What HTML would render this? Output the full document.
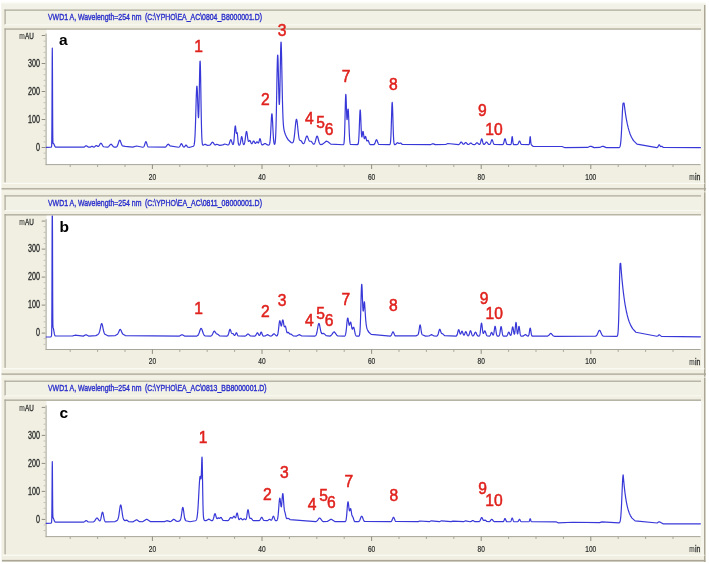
<!DOCTYPE html>
<html lang="en">
<head>
<meta charset="utf-8">
<title>HPLC chromatograms a, b, c</title>
<style>
html,body{margin:0;padding:0;background:#ffffff;}
body{width:709px;height:564px;overflow:hidden;font-family:"Liberation Sans",sans-serif;}
svg{display:block;font-family:"Liberation Sans",sans-serif;}
svg text{font-family:"Liberation Sans",sans-serif;}
</style>
</head>
<body>
<svg width="709" height="564" viewBox="0 0 709 564">
<g filter="url(#soft)">
<rect x="1.50" y="2.80" width="704.50" height="559.20" fill="#f0efe2"/>
<rect x="1.50" y="2.80" width="704.50" height="6.50" fill="#f3f2e8"/>
<rect x="1.50" y="2.80" width="704.50" height="1.00" fill="#f8f7f0"/>
<rect x="704.00" y="5.00" width="1.40" height="557.00" fill="#aaa797"/>
<rect x="2.00" y="559.90" width="703.40" height="1.60" fill="#aaa797"/>
<rect x="4.50" y="9.50" width="696.50" height="15.50" fill="#f2f1e5"/>
<rect x="4.50" y="9.50" width="696.50" height="1.20" fill="#aaa797"/>
<rect x="4.50" y="9.50" width="1.20" height="15.00" fill="#aaa797"/>
<rect x="5.00" y="24.30" width="696.00" height="1.00" fill="#fbfaf4"/>
<rect x="4.50" y="28.40" width="696.50" height="1.30" fill="#aaa797"/>
<rect x="4.50" y="28.40" width="1.20" height="154.10" fill="#aaa797"/>
<rect x="701.00" y="29.70" width="3.00" height="153.10" fill="#f6f5ec"/>
<rect x="2.50" y="182.80" width="702.00" height="1.20" fill="#fbfaf4"/>
<rect x="1.50" y="188.15" width="704.50" height="1.30" fill="#aaa797"/>
<rect x="1.50" y="191.40" width="704.50" height="0.90" fill="#f6f5ec"/>
<rect x="46.50" y="29.90" width="654.50" height="134.70" fill="#ffffff"/>
<rect x="45.60" y="33.50" width="1.00" height="131.60" fill="#a8a69b"/>
<rect x="45.60" y="164.10" width="654.90" height="1.00" fill="#a8a69b"/>
<rect x="43.60" y="158.25" width="2.00" height="0.90" fill="#bdbbb0"/>
<rect x="43.60" y="152.65" width="2.00" height="0.90" fill="#bdbbb0"/>
<rect x="41.70" y="147.00" width="3.60" height="1.00" fill="#8f8d82"/>
<rect x="43.60" y="141.45" width="2.00" height="0.90" fill="#bdbbb0"/>
<rect x="43.60" y="135.85" width="2.00" height="0.90" fill="#bdbbb0"/>
<rect x="43.60" y="130.25" width="2.00" height="0.90" fill="#bdbbb0"/>
<rect x="43.60" y="124.65" width="2.00" height="0.90" fill="#bdbbb0"/>
<rect x="41.70" y="119.00" width="3.60" height="1.00" fill="#8f8d82"/>
<rect x="43.60" y="113.45" width="2.00" height="0.90" fill="#bdbbb0"/>
<rect x="43.60" y="107.85" width="2.00" height="0.90" fill="#bdbbb0"/>
<rect x="43.60" y="102.25" width="2.00" height="0.90" fill="#bdbbb0"/>
<rect x="43.60" y="96.65" width="2.00" height="0.90" fill="#bdbbb0"/>
<rect x="41.70" y="91.00" width="3.60" height="1.00" fill="#8f8d82"/>
<rect x="43.60" y="85.45" width="2.00" height="0.90" fill="#bdbbb0"/>
<rect x="43.60" y="79.85" width="2.00" height="0.90" fill="#bdbbb0"/>
<rect x="43.60" y="74.25" width="2.00" height="0.90" fill="#bdbbb0"/>
<rect x="43.60" y="68.65" width="2.00" height="0.90" fill="#bdbbb0"/>
<rect x="41.70" y="63.00" width="3.60" height="1.00" fill="#8f8d82"/>
<rect x="43.60" y="57.45" width="2.00" height="0.90" fill="#bdbbb0"/>
<rect x="43.60" y="51.85" width="2.00" height="0.90" fill="#bdbbb0"/>
<rect x="43.60" y="46.25" width="2.00" height="0.90" fill="#bdbbb0"/>
<rect x="43.60" y="40.65" width="2.00" height="0.90" fill="#bdbbb0"/>
<rect x="41.70" y="35.00" width="3.60" height="1.00" fill="#8f8d82"/>
<rect x="69.70" y="164.60" width="1.00" height="2.40" fill="#a9a79c"/>
<rect x="97.10" y="164.60" width="1.00" height="2.40" fill="#a9a79c"/>
<rect x="124.50" y="164.60" width="1.00" height="2.40" fill="#a9a79c"/>
<rect x="151.90" y="164.60" width="1.00" height="4.40" fill="#8f8d82"/>
<rect x="179.30" y="164.60" width="1.00" height="2.40" fill="#a9a79c"/>
<rect x="206.70" y="164.60" width="1.00" height="2.40" fill="#a9a79c"/>
<rect x="234.10" y="164.60" width="1.00" height="2.40" fill="#a9a79c"/>
<rect x="261.50" y="164.60" width="1.00" height="4.40" fill="#8f8d82"/>
<rect x="288.90" y="164.60" width="1.00" height="2.40" fill="#a9a79c"/>
<rect x="316.30" y="164.60" width="1.00" height="2.40" fill="#a9a79c"/>
<rect x="343.70" y="164.60" width="1.00" height="2.40" fill="#a9a79c"/>
<rect x="371.10" y="164.60" width="1.00" height="4.40" fill="#8f8d82"/>
<rect x="398.50" y="164.60" width="1.00" height="2.40" fill="#a9a79c"/>
<rect x="425.90" y="164.60" width="1.00" height="2.40" fill="#a9a79c"/>
<rect x="453.30" y="164.60" width="1.00" height="2.40" fill="#a9a79c"/>
<rect x="480.70" y="164.60" width="1.00" height="4.40" fill="#8f8d82"/>
<rect x="508.10" y="164.60" width="1.00" height="2.40" fill="#a9a79c"/>
<rect x="535.50" y="164.60" width="1.00" height="2.40" fill="#a9a79c"/>
<rect x="562.90" y="164.60" width="1.00" height="2.40" fill="#a9a79c"/>
<rect x="590.30" y="164.60" width="1.00" height="4.40" fill="#8f8d82"/>
<rect x="617.70" y="164.60" width="1.00" height="2.40" fill="#a9a79c"/>
<rect x="645.10" y="164.60" width="1.00" height="2.40" fill="#a9a79c"/>
<rect x="672.50" y="164.60" width="1.00" height="2.40" fill="#a9a79c"/>
<text x="36.00" y="151.00" font-size="10.4" fill="#2b2b2b" text-anchor="start" font-weight="normal" textLength="4.00" lengthAdjust="spacingAndGlyphs" stroke="#2b2b2b" stroke-width="0.33">0</text>
<text x="28.00" y="123.00" font-size="10.4" fill="#2b2b2b" text-anchor="start" font-weight="normal" textLength="12.00" lengthAdjust="spacingAndGlyphs" stroke="#2b2b2b" stroke-width="0.33">100</text>
<text x="28.00" y="95.00" font-size="10.4" fill="#2b2b2b" text-anchor="start" font-weight="normal" textLength="12.00" lengthAdjust="spacingAndGlyphs" stroke="#2b2b2b" stroke-width="0.33">200</text>
<text x="28.00" y="67.00" font-size="10.4" fill="#2b2b2b" text-anchor="start" font-weight="normal" textLength="12.00" lengthAdjust="spacingAndGlyphs" stroke="#2b2b2b" stroke-width="0.33">300</text>
<text x="19.20" y="39.00" font-size="9" fill="#2b2b2b" text-anchor="start" font-weight="normal" textLength="5.50" lengthAdjust="spacingAndGlyphs" stroke="#2b2b2b" stroke-width="0.08">m</text>
<text x="25.00" y="39.00" font-size="9" fill="#2b2b2b" text-anchor="start" font-weight="normal" textLength="8.80" lengthAdjust="spacingAndGlyphs" stroke="#2b2b2b" stroke-width="0.32">AU</text>
<text x="148.75" y="180.00" font-size="9.9" fill="#2b2b2b" text-anchor="start" font-weight="normal" textLength="7.30" lengthAdjust="spacingAndGlyphs" stroke="#2b2b2b" stroke-width="0.22">20</text>
<text x="258.35" y="180.00" font-size="9.9" fill="#2b2b2b" text-anchor="start" font-weight="normal" textLength="7.30" lengthAdjust="spacingAndGlyphs" stroke="#2b2b2b" stroke-width="0.22">40</text>
<text x="367.95" y="180.00" font-size="9.9" fill="#2b2b2b" text-anchor="start" font-weight="normal" textLength="7.30" lengthAdjust="spacingAndGlyphs" stroke="#2b2b2b" stroke-width="0.22">60</text>
<text x="477.55" y="180.00" font-size="9.9" fill="#2b2b2b" text-anchor="start" font-weight="normal" textLength="7.30" lengthAdjust="spacingAndGlyphs" stroke="#2b2b2b" stroke-width="0.22">80</text>
<text x="585.32" y="180.00" font-size="9.9" fill="#2b2b2b" text-anchor="start" font-weight="normal" textLength="10.95" lengthAdjust="spacingAndGlyphs" stroke="#2b2b2b" stroke-width="0.22">100</text>
<text x="689.30" y="179.70" font-size="9" fill="#2b2b2b" text-anchor="start" font-weight="normal" textLength="5.40" lengthAdjust="spacingAndGlyphs" stroke="#2b2b2b" stroke-width="0.08">m</text>
<text x="695.00" y="179.70" font-size="9" fill="#2b2b2b" text-anchor="start" font-weight="normal" textLength="5.40" lengthAdjust="spacingAndGlyphs" stroke="#2b2b2b" stroke-width="0.30">in</text>
<text x="48.00" y="20.10" font-size="9.3" fill="#2b30cc" text-anchor="start" font-weight="normal" textLength="93.4" lengthAdjust="spacingAndGlyphs" stroke="#2b30cc" stroke-width="0.4">VWD1 A, Wavelength=254 nm</text>
<text x="144.90" y="20.10" font-size="9.3" fill="#2b30cc" text-anchor="start" font-weight="normal" textLength="117.1" lengthAdjust="spacingAndGlyphs" stroke="#2b30cc" stroke-width="0.4">(C:\YPHO\EA_AC\0804_B8000001.D)</text>
<path transform="translate(0 0.00)" d="M46.20 147.30 L51.00 147.19 L51.30 147.05 L51.40 146.96 L51.50 146.76 L51.60 146.17 L51.70 144.30 L51.80 139.16 L51.90 127.72 L52.00 107.77 L52.10 81.60 L52.20 57.99 L52.30 48.20 L52.40 57.50 L52.50 80.63 L52.60 106.34 L52.70 125.86 L52.80 136.90 L52.90 141.68 L53.00 143.24 L53.10 143.57 L53.40 143.50 L53.60 143.59 L53.80 143.86 L54.80 146.17 L55.10 146.66 L55.50 147.05 L84.00 147.17 L85.90 145.87 L86.40 145.83 L88.20 147.10 L90.30 147.20 L91.80 146.33 L92.30 146.37 L93.50 147.10 L94.30 147.09 L96.10 145.57 L96.50 145.50 L97.90 146.43 L98.30 146.45 L98.70 146.19 L99.30 145.35 L100.20 143.75 L100.60 143.31 L100.90 143.20 L101.20 143.31 L101.60 143.75 L102.90 146.04 L103.50 146.75 L107.60 147.20 L108.60 146.74 L110.50 144.42 L110.90 144.21 L111.30 144.28 L111.90 144.86 L113.10 146.46 L114.00 147.08 L116.00 147.17 L116.70 146.80 L117.10 146.34 L117.50 145.60 L117.90 144.58 L118.90 141.42 L119.20 140.70 L119.40 140.37 L119.60 140.20 L119.80 140.20 L120.00 140.35 L120.20 140.65 L120.50 141.34 L121.50 144.25 L121.80 144.93 L122.10 145.43 L122.50 145.81 L125.20 146.36 L132.70 147.09 L136.60 146.00 L142.70 147.26 L143.40 147.05 L143.80 146.68 L144.10 146.19 L144.40 145.48 L145.30 142.62 L145.50 142.13 L145.70 141.81 L145.90 141.70 L146.10 141.81 L146.30 142.13 L146.50 142.62 L147.30 145.20 L147.60 145.98 L147.90 146.54 L148.30 146.99 L165.20 147.16 L166.00 146.72 L167.70 144.45 L168.10 144.19 L168.50 144.25 L170.00 145.79 L178.40 147.26 L179.20 146.98 L179.60 146.59 L180.10 145.75 L180.80 144.29 L181.10 143.86 L181.30 143.72 L181.50 143.72 L181.70 143.86 L182.00 144.29 L182.90 146.13 L183.30 146.70 L183.70 147.01 L184.10 147.07 L184.50 146.87 L184.90 146.40 L185.60 145.27 L185.80 145.07 L186.00 145.00 L186.20 145.07 L186.50 145.41 L187.30 146.69 L187.80 147.12 L190.00 147.30 L193.30 146.22 L193.60 145.96 L193.80 145.67 L194.00 145.22 L194.10 144.89 L194.20 144.49 L194.30 143.99 L194.40 143.37 L194.50 142.62 L194.60 141.71 L194.70 140.62 L194.80 139.32 L194.90 137.80 L195.00 136.05 L195.10 134.03 L195.20 131.76 L195.30 129.22 L195.40 126.43 L195.50 123.39 L195.60 120.15 L195.70 116.73 L195.80 113.18 L196.00 105.95 L196.10 102.44 L196.20 99.08 L196.30 95.97 L196.40 93.16 L196.50 90.75 L196.60 88.80 L196.70 87.36 L196.80 86.47 L196.90 86.17 L197.00 86.44 L197.10 87.29 L197.20 88.69 L197.30 90.57 L197.40 92.88 L197.50 95.53 L197.60 98.44 L197.80 104.59 L197.90 107.61 L198.00 110.42 L198.10 112.93 L198.20 115.00 L198.30 116.54 L198.40 117.44 L198.50 117.62 L198.60 117.01 L198.70 115.56 L198.80 113.27 L198.90 110.16 L199.00 106.27 L199.10 101.71 L199.20 96.61 L199.30 91.14 L199.40 85.53 L199.50 79.98 L199.60 74.75 L199.70 70.09 L199.80 66.21 L199.90 63.31 L200.00 61.55 L200.10 61.02 L200.20 61.78 L200.30 63.78 L200.40 66.96 L200.50 71.17 L200.60 76.23 L200.70 81.95 L200.80 88.09 L201.00 100.80 L201.10 106.96 L201.20 112.79 L201.30 118.16 L201.40 123.01 L201.50 127.28 L201.60 130.97 L201.70 134.08 L201.80 136.67 L201.90 138.77 L202.00 140.44 L202.10 141.76 L202.20 142.76 L202.30 143.52 L202.40 144.08 L202.50 144.48 L202.60 144.76 L202.70 144.96 L202.90 145.15 L203.30 145.16 L204.80 144.32 L205.40 144.39 L207.20 145.34 L209.60 145.26 L210.30 144.83 L212.00 142.47 L212.30 142.25 L212.60 142.21 L213.00 142.46 L214.40 144.45 L214.90 144.85 L215.50 144.90 L216.90 144.30 L219.70 145.35 L222.80 144.90 L224.80 144.01 L227.90 145.04 L228.40 144.91 L228.70 144.65 L229.00 144.18 L229.30 143.48 L230.20 140.63 L230.40 140.13 L230.60 139.81 L230.80 139.70 L231.00 139.81 L231.20 140.13 L231.40 140.62 L232.20 143.19 L232.50 143.94 L232.70 144.29 L232.90 144.47 L233.10 144.47 L233.20 144.37 L233.30 144.21 L233.40 143.96 L233.50 143.62 L233.60 143.17 L233.70 142.61 L233.80 141.91 L233.90 141.08 L234.00 140.12 L234.10 139.01 L234.20 137.79 L234.30 136.45 L234.70 130.73 L234.80 129.42 L234.90 128.26 L235.00 127.30 L235.10 126.57 L235.20 126.11 L235.30 125.92 L235.40 126.02 L235.50 126.39 L235.60 126.99 L235.70 127.77 L236.00 130.61 L236.10 131.49 L236.20 132.23 L236.30 132.79 L236.40 133.15 L236.50 133.31 L236.60 133.29 L236.70 133.14 L236.90 132.72 L237.00 132.59 L237.10 132.62 L237.20 132.85 L237.30 133.31 L237.40 133.99 L237.50 134.88 L237.60 135.94 L237.90 139.47 L238.00 140.58 L238.10 141.57 L238.20 142.44 L238.30 143.16 L238.40 143.74 L238.50 144.19 L238.60 144.53 L238.70 144.77 L238.90 145.05 L239.20 145.16 L239.50 145.07 L239.70 144.89 L239.90 144.58 L240.10 144.10 L240.30 143.40 L240.50 142.46 L240.70 141.30 L241.10 138.73 L241.20 138.14 L241.30 137.62 L241.40 137.19 L241.50 136.87 L241.60 136.67 L241.70 136.60 L241.80 136.67 L241.90 136.87 L242.00 137.19 L242.10 137.61 L242.20 138.13 L242.80 141.88 L243.00 142.91 L243.10 143.34 L243.20 143.70 L243.30 144.00 L243.50 144.41 L243.70 144.60 L243.90 144.58 L244.10 144.38 L244.30 143.98 L244.50 143.37 L244.60 142.97 L244.70 142.52 L244.80 142.00 L244.90 141.42 L245.10 140.09 L245.30 138.56 L245.70 135.26 L245.90 133.76 L246.00 133.11 L246.10 132.55 L246.20 132.10 L246.30 131.76 L246.40 131.55 L246.50 131.48 L246.60 131.54 L246.70 131.73 L246.80 132.05 L246.90 132.48 L247.00 133.02 L247.10 133.64 L247.30 135.05 L247.70 138.02 L247.90 139.30 L248.00 139.83 L248.10 140.30 L248.20 140.68 L248.30 140.98 L248.40 141.20 L248.50 141.34 L248.60 141.41 L248.80 141.39 L249.50 140.56 L249.70 140.44 L249.90 140.48 L250.10 140.68 L250.40 141.24 L251.10 143.00 L251.30 143.38 L251.50 143.63 L251.70 143.74 L251.90 143.70 L252.10 143.51 L252.40 143.00 L253.10 141.47 L253.30 141.17 L253.50 141.01 L253.70 141.00 L253.90 141.15 L254.20 141.62 L254.80 142.85 L255.10 143.27 L255.30 143.40 L255.50 143.40 L255.80 143.17 L256.60 142.01 L256.90 141.80 L257.10 141.80 L257.40 142.02 L258.10 142.94 L258.30 143.05 L258.50 142.96 L258.70 142.65 L258.90 142.10 L259.10 141.36 L259.50 139.70 L259.60 139.35 L259.70 139.05 L259.80 138.83 L259.90 138.70 L260.00 138.66 L260.10 138.72 L260.20 138.88 L260.30 139.12 L260.40 139.45 L260.60 140.27 L261.10 142.64 L261.30 143.42 L261.50 144.02 L261.70 144.44 L261.90 144.71 L262.20 144.90 L262.90 144.79 L264.70 143.55 L265.30 143.55 L267.50 144.94 L268.70 145.05 L269.10 144.87 L269.30 144.63 L269.50 144.22 L269.60 143.92 L269.70 143.54 L269.80 143.06 L269.90 142.46 L270.00 141.74 L270.10 140.88 L270.20 139.85 L270.30 138.67 L270.40 137.31 L270.50 135.78 L270.60 134.08 L270.70 132.24 L270.80 130.28 L271.20 121.97 L271.30 120.04 L271.40 118.28 L271.50 116.75 L271.60 115.49 L271.70 114.56 L271.80 113.99 L271.90 113.80 L272.00 113.99 L272.10 114.56 L272.20 115.49 L272.30 116.74 L272.40 118.27 L272.50 120.03 L272.60 121.97 L273.00 130.26 L273.10 132.23 L273.20 134.07 L273.30 135.76 L273.40 137.29 L273.50 138.64 L273.60 139.83 L273.70 140.84 L273.80 141.70 L273.90 142.41 L274.00 142.99 L274.10 143.45 L274.20 143.79 L274.30 144.05 L274.40 144.21 L274.50 144.30 L274.60 144.30 L274.70 144.23 L274.80 144.06 L274.90 143.80 L275.00 143.42 L275.10 142.91 L275.20 142.23 L275.30 141.36 L275.40 140.27 L275.50 138.92 L275.60 137.27 L275.70 135.28 L275.80 132.92 L275.90 130.15 L276.00 126.96 L276.10 123.32 L276.20 119.24 L276.30 114.74 L276.40 109.84 L276.50 104.61 L276.60 99.10 L276.70 93.43 L276.80 87.70 L276.90 82.03 L277.00 76.56 L277.10 71.43 L277.20 66.80 L277.30 62.78 L277.40 59.51 L277.50 57.07 L277.60 55.55 L277.70 54.99 L277.80 55.39 L277.90 56.74 L278.00 58.97 L278.10 61.98 L278.20 65.66 L278.30 69.87 L278.40 74.44 L278.60 83.97 L278.70 88.57 L278.80 92.84 L278.90 96.63 L279.00 99.78 L279.10 102.20 L279.20 103.78 L279.30 104.46 L279.40 104.21 L279.50 103.01 L279.60 100.89 L279.70 97.90 L279.80 94.12 L279.90 89.65 L280.00 84.64 L280.10 79.22 L280.30 67.91 L280.40 62.38 L280.50 57.20 L280.60 52.54 L280.70 48.58 L280.80 45.46 L280.90 43.30 L281.00 42.19 L281.10 42.17 L281.20 43.25 L281.30 45.98 L281.40 49.38 L281.50 53.36 L281.60 57.83 L281.70 62.68 L281.80 67.79 L282.00 78.35 L282.10 83.58 L282.20 88.65 L282.30 93.50 L282.40 98.05 L282.50 102.27 L282.60 106.13 L282.70 109.62 L282.80 112.73 L282.90 115.48 L283.00 117.89 L283.10 119.99 L283.20 121.80 L283.30 123.36 L283.40 124.69 L283.50 125.83 L283.60 126.82 L283.70 127.66 L283.80 128.40 L283.90 129.04 L284.10 130.13 L284.30 131.02 L284.70 132.47 L285.50 134.77 L286.70 137.43 L288.40 140.05 L291.10 142.46 L292.10 142.85 L292.60 142.74 L292.90 142.47 L293.10 142.15 L293.30 141.70 L293.50 141.09 L293.70 140.29 L293.90 139.28 L294.10 138.05 L294.30 136.58 L294.50 134.90 L294.70 133.03 L295.40 125.77 L295.60 123.84 L295.70 122.96 L295.80 122.15 L295.90 121.43 L296.00 120.80 L296.10 120.27 L296.20 119.85 L296.30 119.56 L296.40 119.38 L296.50 119.33 L296.60 119.40 L296.70 119.60 L296.80 119.92 L296.90 120.36 L297.00 120.91 L297.10 121.56 L297.20 122.30 L297.30 123.12 L297.50 124.95 L298.10 131.07 L298.30 133.00 L298.50 134.74 L298.60 135.52 L298.70 136.25 L298.80 136.91 L298.90 137.50 L299.00 138.02 L299.10 138.49 L299.30 139.22 L299.50 139.74 L299.70 140.07 L300.00 140.32 L300.90 140.61 L301.40 141.14 L302.60 143.14 L303.00 143.57 L303.30 143.70 L303.60 143.65 L303.90 143.41 L304.20 142.96 L304.50 142.32 L304.90 141.20 L305.90 137.80 L306.20 136.95 L306.40 136.52 L306.60 136.21 L306.80 136.05 L307.00 136.04 L307.20 136.18 L307.40 136.46 L307.70 137.09 L308.70 139.88 L309.00 140.53 L309.30 140.98 L309.60 141.23 L311.00 141.27 L311.50 141.64 L313.00 143.77 L313.50 144.15 L313.90 144.17 L314.20 143.98 L314.50 143.60 L314.80 142.99 L315.10 142.16 L315.50 140.75 L316.20 137.97 L316.40 137.28 L316.60 136.72 L316.80 136.33 L317.00 136.12 L317.20 136.12 L317.40 136.32 L317.60 136.72 L317.80 137.28 L318.20 138.73 L318.90 141.49 L319.20 142.47 L319.50 143.24 L319.80 143.81 L320.20 144.29 L320.90 144.61 L322.70 144.14 L325.90 141.44 L326.80 141.20 L327.90 141.69 L330.80 144.16 L343.20 144.74 L343.50 144.56 L343.60 144.43 L343.70 144.23 L343.80 143.95 L343.90 143.54 L344.00 142.96 L344.10 142.18 L344.20 141.13 L344.30 139.77 L344.40 138.05 L344.50 135.91 L344.60 133.33 L344.70 130.30 L344.80 126.83 L344.90 122.99 L345.00 118.86 L345.20 110.26 L345.30 106.13 L345.40 102.38 L345.50 99.19 L345.60 96.72 L345.70 95.11 L345.80 94.43 L345.90 94.70 L346.00 95.86 L346.10 97.81 L346.20 100.38 L346.30 103.39 L346.50 109.79 L346.60 112.76 L346.70 115.33 L346.80 117.36 L346.90 118.78 L347.00 119.54 L347.10 119.66 L347.20 119.20 L347.30 118.25 L347.40 116.93 L347.50 115.39 L347.60 113.77 L347.70 112.22 L347.80 110.87 L347.90 109.84 L348.00 109.22 L348.10 109.07 L348.20 109.44 L348.30 110.31 L348.40 111.66 L348.50 113.44 L348.60 115.58 L348.70 117.99 L348.80 120.58 L349.00 125.94 L349.10 128.54 L349.20 130.99 L349.30 133.26 L349.40 135.31 L349.50 137.11 L349.60 138.66 L349.70 139.98 L349.80 141.07 L349.90 141.96 L350.00 142.67 L350.10 143.22 L350.20 143.65 L350.30 143.97 L350.40 144.21 L350.60 144.51 L357.50 144.72 L357.80 144.56 L358.00 144.30 L358.10 144.08 L358.20 143.78 L358.30 143.37 L358.40 142.82 L358.50 142.11 L358.60 141.20 L358.70 140.07 L358.80 138.68 L358.90 137.03 L359.00 135.10 L359.10 132.91 L359.20 130.48 L359.30 127.85 L359.60 119.52 L359.70 116.93 L359.80 114.61 L359.90 112.67 L360.00 111.20 L360.10 110.29 L360.20 109.97 L360.30 110.26 L360.40 111.15 L360.50 112.57 L360.60 114.46 L360.70 116.72 L360.80 119.22 L361.00 124.50 L361.10 127.05 L361.20 129.42 L361.30 131.52 L361.40 133.31 L361.50 134.74 L361.60 135.81 L361.70 136.52 L361.80 136.89 L361.90 136.95 L362.00 136.74 L362.10 136.32 L362.20 135.73 L362.60 132.84 L362.70 132.25 L362.80 131.80 L362.90 131.51 L363.00 131.41 L363.10 131.49 L363.20 131.77 L363.30 132.21 L363.40 132.79 L363.50 133.49 L363.80 135.87 L363.90 136.61 L364.00 137.28 L364.10 137.84 L364.20 138.28 L364.30 138.57 L364.40 138.72 L364.50 138.74 L364.60 138.63 L364.70 138.42 L365.20 136.82 L365.30 136.59 L365.40 136.45 L365.50 136.41 L365.60 136.47 L365.70 136.64 L365.80 136.91 L365.90 137.25 L366.40 139.53 L366.60 140.29 L366.70 140.58 L366.80 140.79 L366.90 140.93 L367.00 141.00 L367.20 140.97 L367.80 140.38 L368.00 140.34 L368.20 140.48 L368.40 140.80 L368.70 141.54 L369.30 143.22 L369.60 143.86 L369.90 144.29 L370.40 144.64 L373.70 144.66 L374.20 144.40 L374.60 143.92 L374.90 143.35 L375.90 140.53 L376.10 140.09 L376.30 139.80 L376.50 139.70 L376.70 139.80 L376.90 140.09 L377.20 140.80 L377.90 142.86 L378.20 143.56 L378.50 144.07 L378.90 144.47 L389.60 144.68 L389.90 144.48 L390.00 144.34 L390.10 144.14 L390.20 143.85 L390.30 143.44 L390.40 142.88 L390.50 142.13 L390.60 141.16 L390.70 139.91 L390.80 138.35 L390.90 136.44 L391.00 134.18 L391.10 131.56 L391.20 128.60 L391.30 125.36 L391.40 121.90 L391.60 114.82 L391.70 111.47 L391.80 108.45 L391.90 105.92 L392.00 104.00 L392.10 102.81 L392.20 102.40 L392.30 102.81 L392.40 104.00 L392.50 105.92 L392.60 108.45 L392.70 111.47 L392.80 114.82 L393.00 121.90 L393.10 125.35 L393.20 128.60 L393.30 131.56 L393.40 134.18 L393.50 136.44 L393.60 138.34 L393.70 139.90 L393.80 141.15 L393.90 142.13 L394.00 142.87 L394.10 143.43 L394.20 143.83 L394.30 144.12 L394.40 144.32 L394.60 144.54 L395.10 144.61 L395.80 144.26 L397.10 142.85 L397.50 142.68 L398.00 142.86 L398.80 143.45 L399.30 143.49 L400.30 142.99 L400.70 143.02 L402.40 144.44 L430.90 144.54 L432.60 143.72 L433.40 143.86 L435.30 144.65 L445.70 144.50 L447.80 143.52 L458.50 144.60 L459.20 144.31 L459.80 143.67 L460.70 142.31 L461.00 142.05 L461.30 142.01 L461.60 142.20 L462.80 143.89 L463.20 144.21 L463.60 144.28 L464.10 144.02 L465.30 142.67 L465.60 142.51 L465.90 142.54 L466.40 142.97 L467.40 144.15 L468.10 144.50 L468.90 144.38 L470.50 143.07 L470.90 143.01 L471.50 143.36 L472.60 144.33 L474.40 144.59 L475.30 144.22 L476.60 142.94 L477.00 142.80 L477.40 142.94 L478.80 144.28 L479.30 144.46 L479.70 144.35 L480.00 144.03 L480.20 143.65 L480.40 143.11 L480.60 142.41 L481.20 139.92 L481.40 139.29 L481.50 139.08 L481.60 138.94 L481.70 138.90 L481.80 138.94 L481.90 139.08 L482.00 139.29 L482.20 139.92 L482.80 142.41 L483.00 143.11 L483.20 143.64 L483.40 144.02 L483.70 144.34 L484.10 144.43 L484.60 144.20 L485.20 143.51 L486.00 142.31 L486.30 142.05 L486.60 142.01 L486.90 142.20 L488.20 144.02 L488.80 144.45 L489.50 144.51 L489.90 144.31 L490.20 143.97 L490.50 143.41 L490.80 142.61 L491.40 140.68 L491.60 140.16 L491.80 139.82 L492.00 139.70 L492.20 139.82 L492.40 140.16 L492.60 140.68 L493.30 142.90 L493.60 143.62 L493.90 144.11 L494.30 144.45 L502.60 144.56 L503.00 144.37 L503.30 144.01 L503.50 143.61 L503.70 143.04 L503.90 142.32 L504.50 139.75 L504.60 139.40 L504.70 139.10 L504.80 138.88 L504.90 138.75 L505.00 138.70 L505.10 138.75 L505.20 138.88 L505.30 139.10 L505.40 139.40 L505.60 140.15 L506.10 142.32 L506.30 143.04 L506.50 143.60 L506.70 144.00 L507.00 144.36 L510.60 144.57 L510.80 144.46 L510.90 144.35 L511.00 144.17 L511.10 143.91 L511.20 143.53 L511.30 143.03 L511.40 142.39 L511.50 141.61 L511.60 140.72 L511.80 138.80 L511.90 137.92 L512.00 137.22 L512.10 136.76 L512.20 136.60 L512.30 136.76 L512.40 137.22 L512.50 137.92 L512.60 138.80 L512.80 140.71 L512.90 141.61 L513.00 142.39 L513.10 143.03 L513.20 143.53 L513.30 143.90 L513.40 144.17 L513.50 144.34 L513.70 144.53 L517.30 144.53 L517.70 144.33 L518.00 143.99 L518.30 143.44 L519.00 141.64 L519.20 141.25 L519.40 141.03 L519.60 141.03 L519.80 141.24 L520.00 141.64 L520.70 143.44 L521.00 143.99 L521.40 144.39 L528.90 144.56 L529.10 144.42 L529.20 144.25 L529.30 143.97 L529.40 143.52 L529.50 142.87 L529.60 142.00 L529.70 140.94 L529.90 138.56 L530.00 137.54 L530.10 136.85 L530.20 136.60 L530.30 136.85 L530.40 137.54 L530.50 138.56 L530.70 140.94 L530.80 142.00 L530.90 142.87 L531.00 143.52 L531.10 144.05 L531.20 144.42 L531.30 144.67 L531.50 144.98 L533.00 146.30 L562.00 146.50 L565.00 147.70 L587.60 147.47 L590.20 146.23 L591.30 146.40 L594.20 147.63 L599.80 147.44 L602.30 146.23 L603.40 146.40 L606.30 147.63 L619.00 147.60 L619.40 147.40 L619.70 147.07 L619.90 146.69 L620.10 146.12 L620.20 145.74 L620.30 145.30 L620.40 144.78 L620.50 144.16 L620.60 143.44 L620.70 142.62 L620.80 141.68 L620.90 140.61 L621.00 139.41 L621.10 138.08 L621.20 136.60 L621.30 134.99 L621.40 133.25 L621.50 131.39 L621.60 129.41 L621.70 127.33 L621.90 122.95 L622.20 116.25 L622.30 114.11 L622.40 112.07 L622.50 110.16 L622.60 108.43 L622.70 106.90 L622.80 105.60 L622.90 104.57 L623.00 103.81 L623.10 103.35 L623.20 103.20 L624.10 103.20 L624.50 106.56 L625.00 110.40 L625.50 113.88 L626.00 117.04 L626.60 120.44 L627.30 123.94 L628.10 127.39 L629.00 130.67 L630.10 133.98 L631.50 137.27 L633.50 140.65 L637.00 144.15 L656.80 147.59 L657.40 147.40 L657.80 147.01 L658.30 146.11 L658.80 145.09 L659.00 144.84 L659.20 144.75 L659.40 144.83 L659.70 145.23 L660.30 146.30 L660.60 146.58 L660.90 146.62 L661.70 146.26 L662.10 146.37 L663.30 147.44 L700.40 147.70" fill="none" stroke="#3838d8" stroke-width="1.2" stroke-linejoin="round" stroke-linecap="round"/>
<text x="59.00" y="44.60" font-size="15.5" fill="#000000" text-anchor="start" font-weight="bold">a</text>
<text x="198.60" y="51.90" font-size="15.6" fill="#e0211d" text-anchor="middle" font-weight="normal" stroke="#e0211d" stroke-width="0.5">1</text>
<text x="265.30" y="104.70" font-size="15.6" fill="#e0211d" text-anchor="middle" font-weight="normal" stroke="#e0211d" stroke-width="0.5">2</text>
<text x="282.20" y="36.00" font-size="15.6" fill="#e0211d" text-anchor="middle" font-weight="normal" stroke="#e0211d" stroke-width="0.5">3</text>
<text x="309.30" y="123.80" font-size="15.6" fill="#e0211d" text-anchor="middle" font-weight="normal" stroke="#e0211d" stroke-width="0.5">4</text>
<text x="320.50" y="127.80" font-size="15.6" fill="#e0211d" text-anchor="middle" font-weight="normal" stroke="#e0211d" stroke-width="0.5">5</text>
<text x="329.00" y="134.90" font-size="15.6" fill="#e0211d" text-anchor="middle" font-weight="normal" stroke="#e0211d" stroke-width="0.5">6</text>
<text x="346.20" y="82.30" font-size="15.6" fill="#e0211d" text-anchor="middle" font-weight="normal" stroke="#e0211d" stroke-width="0.5">7</text>
<text x="393.40" y="89.80" font-size="15.6" fill="#e0211d" text-anchor="middle" font-weight="normal" stroke="#e0211d" stroke-width="0.5">8</text>
<text x="482.30" y="115.60" font-size="15.6" fill="#e0211d" text-anchor="middle" font-weight="normal" stroke="#e0211d" stroke-width="0.5">9</text>
<text x="493.90" y="135.00" font-size="15.6" fill="#e0211d" text-anchor="middle" font-weight="normal" stroke="#e0211d" stroke-width="0.5">10</text>
<rect x="4.50" y="195.30" width="696.50" height="15.50" fill="#f2f1e5"/>
<rect x="4.50" y="195.30" width="696.50" height="1.20" fill="#aaa797"/>
<rect x="4.50" y="195.30" width="1.20" height="15.00" fill="#aaa797"/>
<rect x="5.00" y="210.10" width="696.00" height="1.00" fill="#fbfaf4"/>
<rect x="4.50" y="214.20" width="696.50" height="1.30" fill="#aaa797"/>
<rect x="4.50" y="214.20" width="1.20" height="153.60" fill="#aaa797"/>
<rect x="701.00" y="215.50" width="3.00" height="152.60" fill="#f6f5ec"/>
<rect x="2.50" y="368.10" width="702.00" height="1.20" fill="#fbfaf4"/>
<rect x="1.50" y="373.45" width="704.50" height="1.30" fill="#aaa797"/>
<rect x="1.50" y="376.70" width="704.50" height="0.90" fill="#f6f5ec"/>
<rect x="46.50" y="215.70" width="654.50" height="133.80" fill="#ffffff"/>
<rect x="45.60" y="219.10" width="1.00" height="130.90" fill="#a8a69b"/>
<rect x="45.60" y="349.00" width="654.90" height="1.00" fill="#a8a69b"/>
<rect x="43.60" y="343.85" width="2.00" height="0.90" fill="#bdbbb0"/>
<rect x="43.60" y="338.25" width="2.00" height="0.90" fill="#bdbbb0"/>
<rect x="41.70" y="332.60" width="3.60" height="1.00" fill="#8f8d82"/>
<rect x="43.60" y="327.05" width="2.00" height="0.90" fill="#bdbbb0"/>
<rect x="43.60" y="321.45" width="2.00" height="0.90" fill="#bdbbb0"/>
<rect x="43.60" y="315.85" width="2.00" height="0.90" fill="#bdbbb0"/>
<rect x="43.60" y="310.25" width="2.00" height="0.90" fill="#bdbbb0"/>
<rect x="41.70" y="304.60" width="3.60" height="1.00" fill="#8f8d82"/>
<rect x="43.60" y="299.05" width="2.00" height="0.90" fill="#bdbbb0"/>
<rect x="43.60" y="293.45" width="2.00" height="0.90" fill="#bdbbb0"/>
<rect x="43.60" y="287.85" width="2.00" height="0.90" fill="#bdbbb0"/>
<rect x="43.60" y="282.25" width="2.00" height="0.90" fill="#bdbbb0"/>
<rect x="41.70" y="276.60" width="3.60" height="1.00" fill="#8f8d82"/>
<rect x="43.60" y="271.05" width="2.00" height="0.90" fill="#bdbbb0"/>
<rect x="43.60" y="265.45" width="2.00" height="0.90" fill="#bdbbb0"/>
<rect x="43.60" y="259.85" width="2.00" height="0.90" fill="#bdbbb0"/>
<rect x="43.60" y="254.25" width="2.00" height="0.90" fill="#bdbbb0"/>
<rect x="41.70" y="248.60" width="3.60" height="1.00" fill="#8f8d82"/>
<rect x="43.60" y="243.05" width="2.00" height="0.90" fill="#bdbbb0"/>
<rect x="43.60" y="237.45" width="2.00" height="0.90" fill="#bdbbb0"/>
<rect x="43.60" y="231.85" width="2.00" height="0.90" fill="#bdbbb0"/>
<rect x="43.60" y="226.25" width="2.00" height="0.90" fill="#bdbbb0"/>
<rect x="41.70" y="220.60" width="3.60" height="1.00" fill="#8f8d82"/>
<rect x="69.70" y="349.50" width="1.00" height="2.40" fill="#a9a79c"/>
<rect x="97.10" y="349.50" width="1.00" height="2.40" fill="#a9a79c"/>
<rect x="124.50" y="349.50" width="1.00" height="2.40" fill="#a9a79c"/>
<rect x="151.90" y="349.50" width="1.00" height="4.40" fill="#8f8d82"/>
<rect x="179.30" y="349.50" width="1.00" height="2.40" fill="#a9a79c"/>
<rect x="206.70" y="349.50" width="1.00" height="2.40" fill="#a9a79c"/>
<rect x="234.10" y="349.50" width="1.00" height="2.40" fill="#a9a79c"/>
<rect x="261.50" y="349.50" width="1.00" height="4.40" fill="#8f8d82"/>
<rect x="288.90" y="349.50" width="1.00" height="2.40" fill="#a9a79c"/>
<rect x="316.30" y="349.50" width="1.00" height="2.40" fill="#a9a79c"/>
<rect x="343.70" y="349.50" width="1.00" height="2.40" fill="#a9a79c"/>
<rect x="371.10" y="349.50" width="1.00" height="4.40" fill="#8f8d82"/>
<rect x="398.50" y="349.50" width="1.00" height="2.40" fill="#a9a79c"/>
<rect x="425.90" y="349.50" width="1.00" height="2.40" fill="#a9a79c"/>
<rect x="453.30" y="349.50" width="1.00" height="2.40" fill="#a9a79c"/>
<rect x="480.70" y="349.50" width="1.00" height="4.40" fill="#8f8d82"/>
<rect x="508.10" y="349.50" width="1.00" height="2.40" fill="#a9a79c"/>
<rect x="535.50" y="349.50" width="1.00" height="2.40" fill="#a9a79c"/>
<rect x="562.90" y="349.50" width="1.00" height="2.40" fill="#a9a79c"/>
<rect x="590.30" y="349.50" width="1.00" height="4.40" fill="#8f8d82"/>
<rect x="617.70" y="349.50" width="1.00" height="2.40" fill="#a9a79c"/>
<rect x="645.10" y="349.50" width="1.00" height="2.40" fill="#a9a79c"/>
<rect x="672.50" y="349.50" width="1.00" height="2.40" fill="#a9a79c"/>
<text x="36.00" y="336.00" font-size="10.4" fill="#2b2b2b" text-anchor="start" font-weight="normal" textLength="4.00" lengthAdjust="spacingAndGlyphs" stroke="#2b2b2b" stroke-width="0.33">0</text>
<text x="28.00" y="308.00" font-size="10.4" fill="#2b2b2b" text-anchor="start" font-weight="normal" textLength="12.00" lengthAdjust="spacingAndGlyphs" stroke="#2b2b2b" stroke-width="0.33">100</text>
<text x="28.00" y="280.00" font-size="10.4" fill="#2b2b2b" text-anchor="start" font-weight="normal" textLength="12.00" lengthAdjust="spacingAndGlyphs" stroke="#2b2b2b" stroke-width="0.33">200</text>
<text x="28.00" y="252.00" font-size="10.4" fill="#2b2b2b" text-anchor="start" font-weight="normal" textLength="12.00" lengthAdjust="spacingAndGlyphs" stroke="#2b2b2b" stroke-width="0.33">300</text>
<text x="19.20" y="224.60" font-size="9" fill="#2b2b2b" text-anchor="start" font-weight="normal" textLength="5.50" lengthAdjust="spacingAndGlyphs" stroke="#2b2b2b" stroke-width="0.08">m</text>
<text x="25.00" y="224.60" font-size="9" fill="#2b2b2b" text-anchor="start" font-weight="normal" textLength="8.80" lengthAdjust="spacingAndGlyphs" stroke="#2b2b2b" stroke-width="0.32">AU</text>
<text x="148.75" y="364.00" font-size="9.9" fill="#2b2b2b" text-anchor="start" font-weight="normal" textLength="7.30" lengthAdjust="spacingAndGlyphs" stroke="#2b2b2b" stroke-width="0.22">20</text>
<text x="258.35" y="364.00" font-size="9.9" fill="#2b2b2b" text-anchor="start" font-weight="normal" textLength="7.30" lengthAdjust="spacingAndGlyphs" stroke="#2b2b2b" stroke-width="0.22">40</text>
<text x="367.95" y="364.00" font-size="9.9" fill="#2b2b2b" text-anchor="start" font-weight="normal" textLength="7.30" lengthAdjust="spacingAndGlyphs" stroke="#2b2b2b" stroke-width="0.22">60</text>
<text x="477.55" y="364.00" font-size="9.9" fill="#2b2b2b" text-anchor="start" font-weight="normal" textLength="7.30" lengthAdjust="spacingAndGlyphs" stroke="#2b2b2b" stroke-width="0.22">80</text>
<text x="585.32" y="364.00" font-size="9.9" fill="#2b2b2b" text-anchor="start" font-weight="normal" textLength="10.95" lengthAdjust="spacingAndGlyphs" stroke="#2b2b2b" stroke-width="0.22">100</text>
<text x="689.30" y="364.60" font-size="9" fill="#2b2b2b" text-anchor="start" font-weight="normal" textLength="5.40" lengthAdjust="spacingAndGlyphs" stroke="#2b2b2b" stroke-width="0.08">m</text>
<text x="695.00" y="364.60" font-size="9" fill="#2b2b2b" text-anchor="start" font-weight="normal" textLength="5.40" lengthAdjust="spacingAndGlyphs" stroke="#2b2b2b" stroke-width="0.30">in</text>
<text x="48.00" y="205.90" font-size="9.3" fill="#2b30cc" text-anchor="start" font-weight="normal" textLength="93.4" lengthAdjust="spacingAndGlyphs" stroke="#2b30cc" stroke-width="0.4">VWD1 A, Wavelength=254 nm</text>
<text x="144.90" y="205.90" font-size="9.3" fill="#2b30cc" text-anchor="start" font-weight="normal" textLength="117.1" lengthAdjust="spacingAndGlyphs" stroke="#2b30cc" stroke-width="0.4">(C:\YPHO\EA_AC\0811_08000001.D)</text>
<path transform="translate(0 0.40)" d="M46.20 336.60 L50.70 336.51 L51.00 336.33 L51.20 336.04 L51.30 335.84 L51.40 335.57 L51.50 335.11 L51.60 334.04 L51.70 331.02 L51.80 323.05 L51.90 305.58 L52.00 275.30 L52.10 235.65 L52.20 215.60 L52.40 215.60 L52.50 233.00 L52.60 271.43 L52.70 300.60 L52.80 317.11 L52.90 324.27 L53.00 326.67 L53.10 327.30 L53.30 327.70 L53.40 328.00 L53.50 328.40 L53.60 328.88 L54.20 332.48 L54.40 333.52 L54.60 334.33 L54.80 334.91 L55.00 335.29 L55.30 335.61 L72.70 335.49 L75.00 334.80 L83.20 335.71 L85.80 334.42 L86.60 334.56 L88.60 335.67 L95.90 335.22 L98.00 334.05 L98.60 333.40 L99.00 332.73 L99.30 332.02 L99.60 331.09 L99.90 329.92 L100.90 325.12 L101.10 324.32 L101.30 323.71 L101.40 323.49 L101.50 323.33 L101.60 323.23 L101.70 323.21 L101.80 323.25 L101.90 323.36 L102.00 323.53 L102.20 324.06 L102.40 324.80 L102.70 326.18 L103.30 329.22 L103.60 330.56 L103.90 331.67 L104.20 332.54 L104.50 333.19 L105.00 333.92 L108.30 335.55 L115.30 335.14 L117.10 334.18 L117.80 333.40 L118.40 332.32 L119.50 329.74 L119.80 329.25 L120.00 329.06 L120.20 329.00 L120.40 329.06 L120.70 329.39 L121.10 330.16 L122.10 332.53 L122.70 333.54 L125.30 335.21 L179.50 335.63 L181.70 334.35 L182.40 334.38 L184.50 335.63 L196.90 335.65 L197.70 335.20 L198.20 334.60 L198.60 333.86 L199.10 332.59 L200.10 329.55 L200.40 328.80 L200.70 328.27 L200.90 328.07 L201.10 328.00 L201.30 328.07 L201.50 328.27 L201.80 328.80 L202.20 329.84 L203.20 332.87 L203.70 334.06 L204.20 334.88 L204.90 335.48 L210.80 335.67 L211.50 335.31 L212.00 334.75 L212.60 333.67 L213.50 331.66 L213.80 331.14 L214.10 330.83 L214.40 330.75 L214.70 330.91 L216.10 332.97 L216.80 333.49 L218.10 334.14 L219.70 335.46 L227.10 335.70 L227.60 335.42 L227.90 335.05 L228.20 334.45 L228.50 333.59 L229.40 330.11 L229.60 329.51 L229.80 329.11 L229.90 329.00 L230.00 328.95 L230.10 328.97 L230.30 329.19 L230.50 329.62 L231.20 331.79 L231.40 332.31 L231.60 332.69 L231.80 332.94 L232.20 333.11 L232.80 333.16 L233.20 333.45 L234.20 334.78 L234.50 335.01 L234.80 335.00 L235.00 334.84 L235.30 334.37 L236.00 332.78 L236.20 332.50 L236.40 332.40 L236.60 332.50 L236.80 332.80 L237.60 334.70 L237.90 335.21 L238.30 335.60 L245.20 335.66 L246.20 335.09 L247.50 333.78 L248.00 333.60 L248.50 333.78 L250.20 335.39 L254.70 335.71 L255.30 335.43 L255.80 334.85 L256.90 332.80 L257.20 332.47 L257.40 332.40 L257.60 332.47 L257.90 332.80 L258.80 334.48 L259.10 334.86 L259.30 334.99 L259.50 334.99 L259.70 334.83 L259.90 334.53 L260.20 333.81 L260.70 332.33 L260.90 331.88 L261.10 331.63 L261.20 331.60 L261.30 331.63 L261.50 331.88 L261.70 332.34 L262.30 334.17 L262.60 334.89 L262.90 335.36 L263.30 335.66 L265.10 335.58 L267.20 334.25 L267.80 334.25 L269.90 335.58 L271.20 335.63 L272.10 335.11 L273.50 333.60 L273.90 333.41 L274.30 333.47 L276.10 335.26 L276.60 335.48 L277.00 335.39 L277.20 335.21 L277.40 334.90 L277.60 334.41 L277.80 333.71 L277.90 333.27 L278.00 332.76 L278.10 332.19 L278.20 331.54 L278.30 330.83 L278.50 329.22 L279.00 324.68 L279.20 323.00 L279.30 322.26 L279.40 321.63 L279.50 321.10 L279.60 320.71 L279.70 320.45 L279.80 320.32 L279.90 320.34 L280.00 320.49 L280.10 320.76 L280.20 321.13 L280.30 321.59 L280.80 324.35 L280.90 324.81 L281.00 325.19 L281.10 325.46 L281.20 325.61 L281.30 325.64 L281.40 325.54 L281.50 325.32 L281.60 324.98 L281.70 324.54 L281.80 324.02 L282.20 321.56 L282.30 320.98 L282.40 320.47 L282.50 320.05 L282.60 319.74 L282.70 319.55 L282.80 319.49 L282.90 319.56 L283.00 319.76 L283.10 320.08 L283.20 320.51 L283.30 321.04 L283.80 324.18 L283.90 324.74 L284.00 325.24 L284.10 325.65 L284.20 325.97 L284.30 326.20 L284.40 326.33 L284.50 326.38 L284.70 326.29 L285.10 325.84 L285.20 325.79 L285.30 325.80 L285.40 325.88 L285.50 326.05 L285.60 326.29 L285.70 326.61 L285.90 327.44 L286.40 330.05 L286.60 330.96 L286.80 331.67 L286.90 331.93 L287.10 332.26 L287.30 332.38 L288.10 332.01 L288.40 332.04 L288.80 332.41 L289.60 333.44 L290.10 333.70 L291.20 333.79 L293.30 335.48 L296.60 335.67 L299.00 334.25 L299.60 334.25 L301.80 335.62 L315.00 335.66 L315.50 335.38 L315.90 334.91 L316.20 334.33 L316.40 333.80 L316.60 333.14 L316.80 332.36 L317.00 331.43 L317.30 329.84 L317.90 326.35 L318.10 325.29 L318.30 324.37 L318.50 323.67 L318.60 323.42 L318.70 323.23 L318.80 323.11 L318.90 323.07 L319.00 323.10 L319.10 323.20 L319.20 323.38 L319.30 323.62 L319.50 324.29 L319.70 325.16 L320.50 329.41 L320.70 330.38 L320.90 331.21 L321.10 331.90 L321.30 332.44 L321.50 332.83 L321.80 333.16 L322.20 333.26 L323.40 332.97 L324.10 333.28 L326.10 335.25 L329.80 335.68 L330.90 335.22 L331.80 334.27 L333.30 332.01 L333.80 331.57 L334.20 331.51 L334.60 331.70 L336.80 334.76 L337.80 335.50 L344.40 335.72 L344.80 335.53 L345.10 335.19 L345.30 334.79 L345.50 334.20 L345.60 333.82 L345.70 333.36 L345.80 332.84 L345.90 332.24 L346.00 331.56 L346.10 330.79 L346.20 329.96 L346.30 329.04 L346.50 327.04 L346.90 322.71 L347.00 321.69 L347.10 320.73 L347.20 319.87 L347.30 319.12 L347.40 318.51 L347.50 318.04 L347.60 317.74 L347.70 317.59 L347.80 317.62 L347.90 317.80 L348.00 318.12 L348.10 318.58 L348.20 319.14 L348.40 320.48 L348.70 322.61 L348.80 323.24 L348.90 323.79 L349.00 324.23 L349.10 324.56 L349.20 324.78 L349.30 324.87 L349.40 324.84 L349.50 324.70 L349.60 324.47 L349.80 323.79 L350.10 322.59 L350.20 322.24 L350.30 321.96 L350.40 321.75 L350.50 321.64 L350.60 321.63 L350.70 321.74 L350.80 321.95 L350.90 322.27 L351.00 322.68 L351.10 323.18 L351.30 324.35 L351.60 326.23 L351.80 327.34 L351.90 327.79 L352.00 328.17 L352.10 328.46 L352.20 328.66 L352.30 328.77 L352.40 328.79 L352.50 328.72 L352.70 328.41 L353.20 327.21 L353.40 326.90 L353.50 326.84 L353.60 326.85 L353.70 326.93 L353.80 327.09 L353.90 327.33 L354.00 327.63 L354.20 328.43 L354.90 332.02 L355.10 332.94 L355.30 333.73 L355.50 334.35 L355.70 334.83 L356.00 335.31 L356.50 335.67 L358.80 335.73 L359.10 335.54 L359.30 335.24 L359.40 334.98 L359.50 334.64 L359.60 334.18 L359.70 333.57 L359.80 332.77 L359.90 331.76 L360.00 330.48 L360.10 328.92 L360.20 327.03 L360.30 324.80 L360.40 322.21 L360.50 319.28 L360.60 316.02 L360.70 312.48 L360.80 308.74 L361.00 301.00 L361.10 297.24 L361.20 293.72 L361.30 290.58 L361.40 287.94 L361.50 285.90 L361.60 284.53 L361.70 283.89 L361.80 283.99 L361.90 284.79 L362.00 286.24 L362.10 288.23 L362.20 290.66 L362.30 293.37 L362.50 299.10 L362.60 301.84 L362.70 304.33 L362.80 306.47 L362.90 308.21 L363.00 309.49 L363.10 310.30 L363.20 310.64 L363.30 310.56 L363.40 310.09 L363.50 309.30 L363.60 308.28 L363.70 307.09 L363.90 304.61 L364.00 303.48 L364.10 302.53 L364.20 301.83 L364.30 301.43 L364.40 301.38 L364.50 301.70 L364.60 302.40 L364.70 303.87 L364.90 307.02 L365.20 311.91 L365.40 315.02 L365.50 316.48 L365.60 317.85 L365.70 319.14 L365.80 320.32 L365.90 321.41 L366.00 322.40 L366.10 323.30 L366.20 324.11 L366.30 324.83 L366.40 325.48 L366.50 326.06 L366.70 327.05 L366.90 327.84 L367.20 328.79 L367.70 329.97 L368.90 331.91 L371.20 333.99 L390.10 335.73 L390.70 335.49 L391.10 335.09 L391.50 334.40 L392.40 332.21 L392.60 331.83 L392.80 331.58 L393.00 331.50 L393.20 331.58 L393.40 331.83 L393.70 332.43 L394.50 334.40 L394.90 335.09 L395.40 335.56 L416.00 335.45 L417.60 334.68 L418.00 334.24 L418.20 333.87 L418.40 333.34 L418.60 332.61 L418.70 332.16 L418.80 331.64 L419.00 330.42 L419.50 326.85 L419.60 326.20 L419.70 325.63 L419.80 325.15 L419.90 324.79 L420.00 324.57 L420.10 324.50 L420.20 324.57 L420.30 324.79 L420.40 325.15 L420.50 325.63 L420.60 326.20 L420.80 327.56 L421.10 329.74 L421.30 331.06 L421.40 331.64 L421.50 332.16 L421.60 332.61 L421.80 333.34 L422.00 333.87 L422.30 334.37 L425.50 335.70 L429.00 335.62 L431.20 334.25 L431.80 334.25 L434.00 335.62 L436.80 335.70 L437.30 335.42 L437.60 335.05 L437.90 334.45 L438.20 333.59 L439.10 330.08 L439.30 329.46 L439.50 329.03 L439.60 328.91 L439.70 328.85 L439.80 328.85 L440.00 329.04 L440.20 329.43 L441.00 331.83 L441.30 332.51 L441.60 332.95 L443.00 333.66 L444.60 335.30 L456.00 335.73 L456.50 335.47 L456.80 335.10 L457.00 334.71 L457.20 334.18 L457.40 333.51 L458.10 330.59 L458.30 329.91 L458.40 329.65 L458.50 329.46 L458.60 329.34 L458.70 329.29 L458.80 329.33 L458.90 329.45 L459.00 329.63 L459.20 330.19 L459.80 332.47 L460.00 333.09 L460.20 333.50 L460.30 333.62 L460.40 333.68 L460.60 333.61 L460.80 333.32 L461.10 332.58 L461.50 331.46 L461.70 331.04 L461.90 330.82 L462.00 330.79 L462.20 330.92 L462.40 331.27 L462.70 332.09 L463.20 333.67 L463.40 334.18 L463.60 334.54 L463.80 334.73 L464.00 334.75 L464.20 334.60 L464.40 334.29 L464.70 333.56 L465.30 331.85 L465.50 331.45 L465.70 331.23 L465.90 331.23 L466.10 331.45 L466.30 331.86 L467.10 334.17 L467.40 334.84 L467.70 335.26 L468.00 335.45 L468.30 335.43 L468.60 335.17 L468.80 334.86 L469.00 334.42 L469.30 333.54 L469.90 331.40 L470.10 330.82 L470.30 330.43 L470.40 330.33 L470.50 330.30 L470.60 330.33 L470.70 330.43 L470.90 330.82 L471.10 331.40 L471.80 333.86 L472.00 334.42 L472.20 334.86 L472.50 335.29 L472.80 335.49 L473.20 335.45 L473.60 335.13 L474.00 334.50 L474.90 332.46 L475.20 331.98 L475.40 331.82 L475.60 331.82 L475.80 331.98 L476.10 332.46 L477.00 334.50 L477.40 335.14 L477.90 335.57 L478.80 335.74 L479.20 335.59 L479.40 335.38 L479.60 335.02 L479.70 334.77 L479.80 334.44 L479.90 334.04 L480.00 333.56 L480.10 332.99 L480.20 332.33 L480.30 331.58 L480.40 330.75 L480.60 328.89 L480.90 325.98 L481.00 325.10 L481.10 324.32 L481.20 323.67 L481.30 323.19 L481.40 322.88 L481.50 322.78 L481.60 322.87 L481.70 323.16 L481.80 323.62 L481.90 324.25 L482.00 325.00 L482.20 326.75 L482.40 328.60 L482.50 329.47 L482.60 330.28 L482.70 331.00 L482.80 331.61 L482.90 332.12 L483.00 332.51 L483.10 332.79 L483.20 332.97 L483.30 333.05 L483.40 333.04 L483.50 332.95 L483.70 332.61 L484.30 331.09 L484.50 330.72 L484.70 330.52 L484.90 330.52 L485.10 330.73 L485.30 331.12 L486.30 334.08 L486.60 334.75 L486.90 335.22 L487.40 335.62 L489.30 335.74 L489.80 335.50 L490.10 335.14 L490.40 334.57 L491.10 332.67 L491.30 332.26 L491.50 332.03 L491.70 332.03 L491.90 332.25 L492.10 332.67 L492.70 334.21 L492.90 334.56 L493.10 334.71 L493.20 334.70 L493.30 334.61 L493.40 334.46 L493.50 334.23 L493.60 333.93 L493.70 333.54 L493.80 333.07 L493.90 332.52 L494.10 331.24 L494.50 328.32 L494.60 327.65 L494.70 327.06 L494.80 326.57 L494.90 326.20 L495.00 325.98 L495.10 325.90 L495.20 325.98 L495.30 326.20 L495.40 326.57 L495.50 327.06 L495.60 327.66 L495.80 329.05 L496.10 331.27 L496.30 332.59 L496.40 333.16 L496.50 333.66 L496.60 334.09 L496.70 334.46 L496.90 335.01 L497.10 335.36 L497.40 335.64 L498.50 335.75 L498.90 335.58 L499.10 335.38 L499.30 335.04 L499.50 334.50 L499.60 334.14 L499.70 333.72 L499.80 333.24 L499.90 332.68 L500.10 331.40 L500.50 328.55 L500.60 327.90 L500.70 327.33 L500.80 326.85 L500.90 326.50 L501.00 326.27 L501.10 326.20 L501.20 326.27 L501.30 326.50 L501.40 326.85 L501.50 327.33 L501.60 327.90 L501.80 329.25 L502.10 331.40 L502.30 332.68 L502.40 333.24 L502.50 333.72 L502.60 334.14 L502.70 334.50 L502.90 335.04 L503.10 335.38 L503.40 335.65 L506.30 335.72 L506.80 335.46 L507.10 335.13 L507.40 334.61 L508.30 332.37 L508.50 332.02 L508.70 331.82 L508.90 331.82 L509.10 332.02 L509.30 332.37 L510.10 334.34 L510.30 334.70 L510.50 334.92 L510.70 334.96 L510.90 334.80 L511.00 334.63 L511.10 334.39 L511.20 334.08 L511.30 333.70 L511.40 333.25 L511.50 332.74 L511.70 331.52 L512.10 328.78 L512.20 328.15 L512.30 327.59 L512.40 327.13 L512.50 326.79 L512.60 326.57 L512.70 326.50 L512.80 326.57 L512.90 326.79 L513.00 327.13 L513.10 327.59 L513.20 328.15 L513.70 331.48 L513.80 332.09 L513.90 332.63 L514.00 333.08 L514.10 333.44 L514.20 333.69 L514.30 333.82 L514.40 333.81 L514.50 333.67 L514.60 333.38 L514.70 332.93 L514.80 332.33 L514.90 331.57 L515.00 330.68 L515.10 329.66 L515.50 325.09 L515.60 324.07 L515.70 323.20 L515.80 322.55 L515.90 322.14 L516.00 322.00 L516.10 322.14 L516.20 322.55 L516.30 323.20 L516.40 324.07 L516.50 325.09 L516.80 328.55 L516.90 329.65 L517.00 330.66 L517.10 331.54 L517.20 332.27 L517.30 332.83 L517.40 333.21 L517.50 333.42 L517.60 333.46 L517.70 333.33 L517.80 333.04 L517.90 332.60 L518.00 332.03 L518.10 331.36 L518.50 328.18 L518.60 327.46 L518.70 326.85 L518.80 326.39 L518.90 326.10 L519.00 326.00 L519.10 326.10 L519.20 326.39 L519.30 326.86 L519.40 327.48 L519.50 328.21 L519.90 331.51 L520.00 332.27 L520.10 332.95 L520.20 333.55 L520.30 334.05 L520.40 334.47 L520.50 334.81 L520.60 335.08 L520.80 335.44 L521.10 335.69 L523.20 335.66 L525.10 334.27 L525.50 334.21 L527.40 335.58 L528.00 335.69 L528.30 335.57 L528.50 335.36 L528.70 334.98 L528.80 334.70 L528.90 334.35 L529.00 333.93 L529.10 333.44 L529.20 332.88 L529.40 331.58 L529.70 329.52 L529.80 328.92 L529.90 328.41 L530.00 328.02 L530.10 327.78 L530.20 327.70 L530.30 327.78 L530.40 328.02 L530.50 328.41 L530.60 328.92 L530.70 329.52 L531.10 332.26 L531.20 332.88 L531.30 333.44 L531.40 333.94 L531.50 334.36 L531.60 334.70 L531.80 335.21 L532.00 335.50 L532.40 335.74 L547.70 335.63 L548.60 335.13 L550.20 333.27 L550.60 333.03 L551.00 333.04 L551.50 333.42 L553.00 335.30 L554.30 335.92 L595.50 335.83 L596.30 335.37 L596.90 334.64 L597.50 333.49 L598.60 330.90 L599.00 330.23 L599.30 329.95 L599.60 329.91 L599.90 330.11 L600.20 330.53 L601.80 334.12 L602.40 335.06 L603.20 335.71 L616.80 335.94 L617.10 335.81 L617.30 335.59 L617.40 335.42 L617.50 335.19 L617.60 334.88 L617.70 334.46 L617.80 333.91 L617.90 333.21 L618.00 332.32 L618.10 331.20 L618.20 329.82 L618.30 328.14 L618.40 326.12 L618.50 323.74 L618.60 320.97 L618.70 317.80 L618.80 314.23 L618.90 310.28 L619.00 305.99 L619.10 301.41 L619.20 296.62 L619.40 286.82 L619.50 282.05 L619.60 277.55 L619.70 273.44 L619.80 269.87 L619.90 266.94 L620.00 264.78 L620.10 263.45 L620.20 263.00 L620.70 263.00 L621.00 267.02 L621.30 270.81 L621.60 274.40 L621.90 277.79 L622.30 282.02 L622.70 285.95 L623.10 289.58 L623.50 292.96 L624.00 296.83 L624.50 300.36 L625.10 304.17 L625.70 307.58 L626.40 311.10 L627.20 314.59 L628.10 317.93 L629.20 321.32 L630.60 324.73 L632.60 328.27 L635.90 331.85 L656.80 335.88 L657.70 335.56 L658.90 334.53 L659.30 334.46 L661.40 335.97 L700.40 336.40" fill="none" stroke="#3838d8" stroke-width="1.2" stroke-linejoin="round" stroke-linecap="round"/>
<text x="59.40" y="231.60" font-size="15.5" fill="#000000" text-anchor="start" font-weight="bold">b</text>
<text x="198.60" y="314.00" font-size="15.6" fill="#e0211d" text-anchor="middle" font-weight="normal" stroke="#e0211d" stroke-width="0.5">1</text>
<text x="265.30" y="316.70" font-size="15.6" fill="#e0211d" text-anchor="middle" font-weight="normal" stroke="#e0211d" stroke-width="0.5">2</text>
<text x="282.20" y="306.20" font-size="15.6" fill="#e0211d" text-anchor="middle" font-weight="normal" stroke="#e0211d" stroke-width="0.5">3</text>
<text x="309.30" y="325.50" font-size="15.6" fill="#e0211d" text-anchor="middle" font-weight="normal" stroke="#e0211d" stroke-width="0.5">4</text>
<text x="320.50" y="318.60" font-size="15.6" fill="#e0211d" text-anchor="middle" font-weight="normal" stroke="#e0211d" stroke-width="0.5">5</text>
<text x="329.00" y="326.00" font-size="15.6" fill="#e0211d" text-anchor="middle" font-weight="normal" stroke="#e0211d" stroke-width="0.5">6</text>
<text x="345.90" y="304.60" font-size="15.6" fill="#e0211d" text-anchor="middle" font-weight="normal" stroke="#e0211d" stroke-width="0.5">7</text>
<text x="393.30" y="310.70" font-size="15.6" fill="#e0211d" text-anchor="middle" font-weight="normal" stroke="#e0211d" stroke-width="0.5">8</text>
<text x="484.00" y="303.60" font-size="15.6" fill="#e0211d" text-anchor="middle" font-weight="normal" stroke="#e0211d" stroke-width="0.5">9</text>
<text x="494.30" y="319.00" font-size="15.6" fill="#e0211d" text-anchor="middle" font-weight="normal" stroke="#e0211d" stroke-width="0.5">10</text>
<rect x="4.50" y="380.60" width="696.50" height="15.50" fill="#f2f1e5"/>
<rect x="4.50" y="380.60" width="696.50" height="1.20" fill="#aaa797"/>
<rect x="4.50" y="380.60" width="1.20" height="15.00" fill="#aaa797"/>
<rect x="5.00" y="395.40" width="696.00" height="1.00" fill="#fbfaf4"/>
<rect x="4.50" y="399.50" width="696.50" height="1.30" fill="#aaa797"/>
<rect x="4.50" y="399.50" width="1.20" height="154.90" fill="#aaa797"/>
<rect x="701.00" y="400.80" width="3.00" height="153.90" fill="#f6f5ec"/>
<rect x="2.50" y="554.70" width="702.00" height="1.20" fill="#fbfaf4"/>
<rect x="46.50" y="401.00" width="654.50" height="135.60" fill="#ffffff"/>
<rect x="45.60" y="405.40" width="1.00" height="131.70" fill="#a8a69b"/>
<rect x="45.60" y="536.10" width="654.90" height="1.00" fill="#a8a69b"/>
<rect x="43.60" y="530.15" width="2.00" height="0.90" fill="#bdbbb0"/>
<rect x="43.60" y="524.55" width="2.00" height="0.90" fill="#bdbbb0"/>
<rect x="41.70" y="518.90" width="3.60" height="1.00" fill="#8f8d82"/>
<rect x="43.60" y="513.35" width="2.00" height="0.90" fill="#bdbbb0"/>
<rect x="43.60" y="507.75" width="2.00" height="0.90" fill="#bdbbb0"/>
<rect x="43.60" y="502.15" width="2.00" height="0.90" fill="#bdbbb0"/>
<rect x="43.60" y="496.55" width="2.00" height="0.90" fill="#bdbbb0"/>
<rect x="41.70" y="490.90" width="3.60" height="1.00" fill="#8f8d82"/>
<rect x="43.60" y="485.35" width="2.00" height="0.90" fill="#bdbbb0"/>
<rect x="43.60" y="479.75" width="2.00" height="0.90" fill="#bdbbb0"/>
<rect x="43.60" y="474.15" width="2.00" height="0.90" fill="#bdbbb0"/>
<rect x="43.60" y="468.55" width="2.00" height="0.90" fill="#bdbbb0"/>
<rect x="41.70" y="462.90" width="3.60" height="1.00" fill="#8f8d82"/>
<rect x="43.60" y="457.35" width="2.00" height="0.90" fill="#bdbbb0"/>
<rect x="43.60" y="451.75" width="2.00" height="0.90" fill="#bdbbb0"/>
<rect x="43.60" y="446.15" width="2.00" height="0.90" fill="#bdbbb0"/>
<rect x="43.60" y="440.55" width="2.00" height="0.90" fill="#bdbbb0"/>
<rect x="41.70" y="434.90" width="3.60" height="1.00" fill="#8f8d82"/>
<rect x="43.60" y="429.35" width="2.00" height="0.90" fill="#bdbbb0"/>
<rect x="43.60" y="423.75" width="2.00" height="0.90" fill="#bdbbb0"/>
<rect x="43.60" y="418.15" width="2.00" height="0.90" fill="#bdbbb0"/>
<rect x="43.60" y="412.55" width="2.00" height="0.90" fill="#bdbbb0"/>
<rect x="41.70" y="406.90" width="3.60" height="1.00" fill="#8f8d82"/>
<rect x="69.70" y="536.60" width="1.00" height="2.40" fill="#a9a79c"/>
<rect x="97.10" y="536.60" width="1.00" height="2.40" fill="#a9a79c"/>
<rect x="124.50" y="536.60" width="1.00" height="2.40" fill="#a9a79c"/>
<rect x="151.90" y="536.60" width="1.00" height="4.40" fill="#8f8d82"/>
<rect x="179.30" y="536.60" width="1.00" height="2.40" fill="#a9a79c"/>
<rect x="206.70" y="536.60" width="1.00" height="2.40" fill="#a9a79c"/>
<rect x="234.10" y="536.60" width="1.00" height="2.40" fill="#a9a79c"/>
<rect x="261.50" y="536.60" width="1.00" height="4.40" fill="#8f8d82"/>
<rect x="288.90" y="536.60" width="1.00" height="2.40" fill="#a9a79c"/>
<rect x="316.30" y="536.60" width="1.00" height="2.40" fill="#a9a79c"/>
<rect x="343.70" y="536.60" width="1.00" height="2.40" fill="#a9a79c"/>
<rect x="371.10" y="536.60" width="1.00" height="4.40" fill="#8f8d82"/>
<rect x="398.50" y="536.60" width="1.00" height="2.40" fill="#a9a79c"/>
<rect x="425.90" y="536.60" width="1.00" height="2.40" fill="#a9a79c"/>
<rect x="453.30" y="536.60" width="1.00" height="2.40" fill="#a9a79c"/>
<rect x="480.70" y="536.60" width="1.00" height="4.40" fill="#8f8d82"/>
<rect x="508.10" y="536.60" width="1.00" height="2.40" fill="#a9a79c"/>
<rect x="535.50" y="536.60" width="1.00" height="2.40" fill="#a9a79c"/>
<rect x="562.90" y="536.60" width="1.00" height="2.40" fill="#a9a79c"/>
<rect x="590.30" y="536.60" width="1.00" height="4.40" fill="#8f8d82"/>
<rect x="617.70" y="536.60" width="1.00" height="2.40" fill="#a9a79c"/>
<rect x="645.10" y="536.60" width="1.00" height="2.40" fill="#a9a79c"/>
<rect x="672.50" y="536.60" width="1.00" height="2.40" fill="#a9a79c"/>
<text x="36.00" y="523.00" font-size="10.4" fill="#2b2b2b" text-anchor="start" font-weight="normal" textLength="4.00" lengthAdjust="spacingAndGlyphs" stroke="#2b2b2b" stroke-width="0.33">0</text>
<text x="28.00" y="495.00" font-size="10.4" fill="#2b2b2b" text-anchor="start" font-weight="normal" textLength="12.00" lengthAdjust="spacingAndGlyphs" stroke="#2b2b2b" stroke-width="0.33">100</text>
<text x="28.00" y="467.00" font-size="10.4" fill="#2b2b2b" text-anchor="start" font-weight="normal" textLength="12.00" lengthAdjust="spacingAndGlyphs" stroke="#2b2b2b" stroke-width="0.33">200</text>
<text x="28.00" y="439.00" font-size="10.4" fill="#2b2b2b" text-anchor="start" font-weight="normal" textLength="12.00" lengthAdjust="spacingAndGlyphs" stroke="#2b2b2b" stroke-width="0.33">300</text>
<text x="19.20" y="410.90" font-size="9" fill="#2b2b2b" text-anchor="start" font-weight="normal" textLength="5.50" lengthAdjust="spacingAndGlyphs" stroke="#2b2b2b" stroke-width="0.08">m</text>
<text x="25.00" y="410.90" font-size="9" fill="#2b2b2b" text-anchor="start" font-weight="normal" textLength="8.80" lengthAdjust="spacingAndGlyphs" stroke="#2b2b2b" stroke-width="0.32">AU</text>
<text x="148.75" y="552.00" font-size="9.9" fill="#2b2b2b" text-anchor="start" font-weight="normal" textLength="7.30" lengthAdjust="spacingAndGlyphs" stroke="#2b2b2b" stroke-width="0.22">20</text>
<text x="258.35" y="552.00" font-size="9.9" fill="#2b2b2b" text-anchor="start" font-weight="normal" textLength="7.30" lengthAdjust="spacingAndGlyphs" stroke="#2b2b2b" stroke-width="0.22">40</text>
<text x="367.95" y="552.00" font-size="9.9" fill="#2b2b2b" text-anchor="start" font-weight="normal" textLength="7.30" lengthAdjust="spacingAndGlyphs" stroke="#2b2b2b" stroke-width="0.22">60</text>
<text x="477.55" y="552.00" font-size="9.9" fill="#2b2b2b" text-anchor="start" font-weight="normal" textLength="7.30" lengthAdjust="spacingAndGlyphs" stroke="#2b2b2b" stroke-width="0.22">80</text>
<text x="585.32" y="552.00" font-size="9.9" fill="#2b2b2b" text-anchor="start" font-weight="normal" textLength="10.95" lengthAdjust="spacingAndGlyphs" stroke="#2b2b2b" stroke-width="0.22">100</text>
<text x="689.30" y="551.70" font-size="9" fill="#2b2b2b" text-anchor="start" font-weight="normal" textLength="5.40" lengthAdjust="spacingAndGlyphs" stroke="#2b2b2b" stroke-width="0.08">m</text>
<text x="695.00" y="551.70" font-size="9" fill="#2b2b2b" text-anchor="start" font-weight="normal" textLength="5.40" lengthAdjust="spacingAndGlyphs" stroke="#2b2b2b" stroke-width="0.30">in</text>
<text x="48.00" y="391.20" font-size="9.3" fill="#2b30cc" text-anchor="start" font-weight="normal" textLength="93.4" lengthAdjust="spacingAndGlyphs" stroke="#2b30cc" stroke-width="0.4">VWD1 A, Wavelength=254 nm</text>
<text x="144.90" y="391.20" font-size="9.3" fill="#2b30cc" text-anchor="start" font-weight="normal" textLength="121.7" lengthAdjust="spacingAndGlyphs" stroke="#2b30cc" stroke-width="0.4">(C:\YPHO\EA_AC\0813_BB8000001.D)</text>
<path transform="translate(0 0.50)" d="M46.20 522.80 L50.90 522.70 L51.20 522.46 L51.40 522.17 L51.50 521.93 L51.60 521.44 L51.70 520.16 L51.80 516.89 L51.90 509.83 L52.00 497.64 L52.10 481.72 L52.20 467.32 L52.30 461.21 L52.40 466.56 L52.50 480.22 L52.60 495.45 L52.70 507.00 L52.80 513.50 L52.90 516.29 L53.00 517.20 L53.10 517.42 L53.30 517.57 L53.50 517.91 L54.00 519.36 L54.30 520.31 L54.50 520.80 L54.80 521.32 L55.20 521.65 L83.90 521.57 L84.80 521.06 L85.80 520.13 L86.20 520.00 L86.70 520.20 L88.00 521.34 L93.20 521.49 L94.10 521.01 L94.90 520.10 L96.20 518.05 L96.60 517.65 L97.00 517.50 L97.40 517.64 L98.00 518.32 L99.10 520.00 L99.50 520.36 L99.80 520.42 L100.00 520.32 L100.20 520.09 L100.40 519.71 L100.60 519.16 L100.80 518.45 L101.00 517.59 L101.70 513.98 L101.90 513.05 L102.10 512.32 L102.20 512.05 L102.30 511.86 L102.40 511.73 L102.50 511.70 L102.60 511.74 L102.70 511.86 L102.80 512.06 L102.90 512.33 L103.10 513.07 L103.30 514.00 L103.90 517.20 L104.10 518.17 L104.30 519.01 L104.50 519.71 L104.70 520.27 L105.00 520.86 L105.40 521.30 L115.00 521.07 L116.90 520.11 L117.40 519.58 L117.70 519.10 L118.00 518.41 L118.20 517.80 L118.40 517.05 L118.60 516.13 L118.80 515.05 L119.00 513.81 L119.30 511.70 L119.80 508.03 L120.00 506.73 L120.10 506.16 L120.20 505.66 L120.30 505.23 L120.40 504.89 L120.50 504.65 L120.60 504.50 L120.70 504.45 L120.80 504.50 L120.90 504.65 L121.00 504.89 L121.10 505.23 L121.20 505.65 L121.30 506.15 L121.50 507.35 L121.80 509.46 L122.30 513.12 L122.50 514.43 L122.70 515.60 L122.90 516.59 L123.10 517.42 L123.30 518.10 L123.60 518.86 L123.90 519.39 L124.40 519.91 L125.00 520.12 L126.60 519.59 L127.10 519.75 L128.60 521.13 L133.10 521.34 L136.10 519.38 L136.80 519.34 L139.50 521.19 L142.60 521.25 L146.10 518.90 L146.90 518.84 L150.30 521.12 L164.40 521.13 L166.90 520.20 L170.10 521.11 L171.20 520.78 L173.30 518.94 L173.90 518.80 L174.70 519.21 L176.40 520.70 L177.90 520.99 L179.60 520.37 L180.10 519.88 L180.40 519.36 L180.60 518.86 L180.80 518.19 L181.00 517.33 L181.20 516.25 L181.40 514.97 L182.10 509.73 L182.20 509.06 L182.30 508.46 L182.40 507.95 L182.50 507.53 L182.60 507.22 L182.70 507.04 L182.80 506.97 L182.90 507.04 L183.00 507.22 L183.10 507.53 L183.20 507.95 L183.30 508.46 L183.40 509.06 L183.60 510.45 L184.10 514.26 L184.30 515.63 L184.50 516.81 L184.70 517.77 L184.90 518.54 L185.10 519.12 L185.40 519.72 L185.90 520.27 L190.00 521.27 L195.40 520.28 L195.90 519.92 L196.20 519.55 L196.40 519.18 L196.60 518.67 L196.80 517.97 L196.90 517.53 L197.00 517.04 L197.10 516.47 L197.20 515.82 L197.30 515.09 L197.40 514.28 L197.50 513.37 L197.60 512.37 L197.70 511.27 L197.80 510.06 L197.90 508.76 L198.00 507.35 L198.10 505.85 L198.20 504.26 L198.30 502.58 L198.40 500.83 L198.60 497.14 L199.00 489.48 L199.10 487.62 L199.20 485.82 L199.30 484.11 L199.40 482.50 L199.50 481.03 L199.60 479.70 L199.70 478.55 L199.80 477.58 L199.90 476.81 L200.00 476.25 L200.10 475.90 L200.20 475.77 L200.30 475.84 L200.40 476.11 L200.50 476.54 L200.80 478.17 L200.90 478.50 L201.00 478.49 L201.10 478.00 L201.20 476.89 L201.30 475.08 L201.40 472.55 L201.50 469.43 L201.70 462.48 L201.80 459.47 L201.90 457.38 L202.00 456.62 L202.10 457.48 L202.20 460.05 L202.30 464.22 L202.40 469.68 L202.50 476.01 L202.60 482.71 L202.70 489.31 L202.80 495.44 L202.90 500.83 L203.00 505.35 L203.10 508.99 L203.20 511.81 L203.30 513.93 L203.40 515.50 L203.50 516.64 L203.60 517.47 L203.70 518.08 L203.80 518.53 L203.90 518.88 L204.10 519.37 L204.40 519.80 L205.00 520.16 L206.40 520.07 L208.50 518.65 L209.10 518.65 L211.20 520.06 L212.10 520.16 L212.50 519.97 L212.80 519.66 L213.10 519.13 L213.30 518.62 L213.60 517.63 L214.30 514.74 L214.50 514.03 L214.70 513.51 L214.80 513.33 L214.90 513.23 L215.00 513.19 L215.10 513.22 L215.20 513.32 L215.40 513.70 L215.60 514.30 L216.20 516.54 L216.40 517.17 L216.60 517.67 L216.80 517.99 L217.00 518.14 L217.30 518.09 L218.10 517.45 L218.50 517.39 L219.40 517.85 L219.80 517.78 L220.70 516.99 L221.00 516.93 L221.30 517.11 L221.70 517.71 L222.50 519.23 L223.00 519.85 L227.60 520.21 L228.40 519.85 L229.10 519.09 L230.20 517.38 L230.60 517.03 L231.00 517.00 L232.00 517.69 L232.30 517.73 L232.60 517.54 L233.60 515.93 L233.80 515.73 L234.00 515.69 L234.20 515.79 L234.50 516.18 L235.00 517.06 L235.20 517.28 L235.40 517.32 L235.50 517.25 L235.60 517.13 L235.70 516.94 L235.90 516.39 L236.10 515.65 L236.50 513.94 L236.70 513.21 L236.80 512.93 L236.90 512.72 L237.00 512.60 L237.10 512.56 L237.20 512.62 L237.30 512.76 L237.40 512.99 L237.50 513.30 L237.70 514.11 L238.30 517.02 L238.50 517.83 L238.70 518.44 L238.90 518.85 L239.10 519.06 L239.30 519.10 L239.60 518.92 L240.40 517.98 L240.70 517.81 L241.00 517.84 L241.50 518.30 L242.20 519.14 L242.60 519.33 L243.00 519.22 L244.00 518.37 L244.40 518.30 L245.50 519.09 L245.70 519.13 L245.90 519.02 L246.10 518.72 L246.20 518.48 L246.30 518.18 L246.40 517.81 L246.50 517.38 L246.60 516.88 L246.80 515.69 L247.40 511.47 L247.50 510.86 L247.60 510.32 L247.70 509.88 L247.80 509.55 L247.90 509.34 L248.00 509.27 L248.10 509.33 L248.20 509.52 L248.30 509.83 L248.40 510.25 L248.50 510.76 L248.70 511.99 L249.10 514.68 L249.30 515.84 L249.40 516.32 L249.50 516.75 L249.60 517.10 L249.70 517.38 L249.80 517.59 L250.00 517.85 L250.20 517.93 L251.00 517.76 L251.30 517.90 L252.70 519.71 L253.50 520.19 L259.10 520.18 L259.70 519.83 L260.10 519.33 L261.20 517.21 L261.50 516.87 L261.70 516.80 L261.90 516.87 L262.20 517.21 L263.30 519.33 L263.80 519.91 L267.10 520.22 L268.10 519.74 L269.20 518.87 L269.70 518.83 L271.00 519.68 L271.30 519.70 L271.60 519.51 L271.90 519.07 L272.20 518.37 L272.80 516.61 L273.00 516.13 L273.20 515.81 L273.40 515.70 L273.60 515.81 L273.80 516.13 L274.10 516.90 L274.70 518.68 L275.00 519.35 L275.30 519.80 L275.80 520.16 L276.50 520.19 L276.90 519.96 L277.10 519.71 L277.30 519.31 L277.40 519.04 L277.50 518.70 L277.60 518.30 L277.70 517.82 L277.80 517.25 L277.90 516.60 L278.00 515.85 L278.10 515.00 L278.20 514.04 L278.30 513.00 L278.40 511.86 L278.50 510.63 L278.70 508.01 L279.00 503.96 L279.10 502.68 L279.20 501.50 L279.30 500.43 L279.40 499.51 L279.50 498.76 L279.60 498.20 L279.70 497.84 L279.80 497.70 L279.90 497.76 L280.00 498.03 L280.10 498.49 L280.20 499.12 L280.30 499.88 L280.40 500.74 L280.70 503.53 L280.80 504.38 L280.90 505.13 L281.00 505.72 L281.10 506.13 L281.20 506.34 L281.30 506.31 L281.40 506.05 L281.50 505.55 L281.60 504.83 L281.70 503.90 L281.80 502.80 L281.90 501.56 L282.20 497.56 L282.30 496.32 L282.40 495.22 L282.50 494.31 L282.60 493.63 L282.70 493.22 L282.80 493.09 L282.90 493.26 L283.00 493.72 L283.10 494.44 L283.20 495.41 L283.30 496.57 L283.40 497.88 L283.80 503.62 L283.90 504.94 L284.00 506.14 L284.10 507.22 L284.20 508.15 L284.30 508.94 L284.40 509.59 L284.50 510.14 L284.60 510.59 L285.20 512.70 L285.50 514.02 L285.90 515.94 L286.10 516.77 L286.30 517.41 L286.50 517.84 L286.70 518.07 L287.00 518.14 L288.00 517.76 L288.60 517.97 L290.00 519.08 L315.70 521.17 L316.70 520.71 L317.70 519.60 L318.80 518.00 L319.30 517.58 L319.70 517.51 L320.10 517.71 L322.20 520.45 L323.40 521.15 L327.30 521.00 L330.50 518.89 L331.30 518.83 L334.80 521.03 L345.00 521.22 L345.40 520.99 L345.60 520.73 L345.80 520.30 L345.90 520.00 L346.00 519.62 L346.10 519.17 L346.20 518.62 L346.30 517.97 L346.40 517.22 L346.50 516.36 L346.60 515.39 L346.70 514.32 L346.80 513.16 L347.00 510.62 L347.30 506.65 L347.40 505.42 L347.50 504.30 L347.60 503.31 L347.70 502.50 L347.80 501.88 L347.90 501.48 L348.00 501.30 L348.10 501.35 L348.20 501.62 L348.30 502.08 L348.40 502.72 L348.50 503.49 L348.90 507.14 L349.00 507.98 L349.10 508.73 L349.20 509.34 L349.30 509.81 L349.40 510.13 L349.50 510.30 L349.60 510.32 L349.70 510.21 L349.80 509.99 L350.20 508.68 L350.30 508.40 L350.40 508.20 L350.50 508.09 L350.60 508.10 L350.70 508.22 L350.80 508.47 L350.90 508.83 L351.00 509.29 L351.10 509.83 L351.60 512.99 L351.70 513.56 L351.80 514.07 L351.90 514.50 L352.00 514.87 L352.20 515.42 L352.90 516.54 L353.10 517.02 L353.90 519.61 L354.20 520.37 L354.50 520.85 L354.90 521.16 L358.40 521.17 L359.00 520.85 L359.40 520.41 L359.80 519.70 L361.00 516.58 L361.30 516.00 L361.50 515.78 L361.70 515.70 L361.90 515.78 L362.10 516.00 L362.40 516.58 L363.50 519.48 L363.90 520.26 L364.40 520.85 L390.80 521.18 L391.30 520.90 L391.70 520.41 L392.10 519.61 L392.90 517.54 L393.10 517.15 L393.30 516.89 L393.50 516.80 L393.70 516.89 L393.90 517.15 L394.20 517.78 L395.00 519.84 L395.40 520.56 L395.80 520.98 L418.20 521.14 L419.90 520.50 L429.30 521.19 L431.30 520.30 L439.40 521.21 L441.50 520.30 L451.10 521.18 L453.00 520.60 L463.60 521.19 L465.60 520.30 L470.10 521.27 L471.30 520.88 L472.50 520.06 L473.00 520.03 L474.90 521.16 L479.00 521.19 L479.50 520.92 L479.90 520.45 L480.30 519.69 L481.10 517.71 L481.30 517.33 L481.50 517.08 L481.70 516.99 L481.90 517.07 L482.10 517.31 L483.10 519.41 L483.40 519.81 L483.70 519.99 L485.00 519.58 L485.50 519.80 L486.80 520.96 L489.10 521.23 L489.90 520.89 L491.40 518.99 L491.70 518.81 L492.00 518.85 L492.40 519.21 L493.40 520.60 L494.10 521.12 L503.10 521.22 L503.50 520.97 L503.80 520.54 L504.10 519.86 L504.60 518.50 L504.80 518.13 L504.90 518.03 L505.00 518.00 L505.10 518.03 L505.30 518.29 L505.60 519.01 L506.00 520.11 L506.30 520.71 L506.60 521.06 L510.20 521.24 L510.60 521.02 L510.80 520.79 L511.00 520.43 L511.20 519.93 L511.80 518.07 L512.00 517.65 L512.10 517.54 L512.20 517.50 L512.30 517.54 L512.40 517.65 L512.60 518.07 L513.20 519.93 L513.40 520.43 L513.60 520.79 L513.90 521.10 L517.60 521.24 L518.00 521.05 L518.30 520.72 L519.10 519.18 L519.30 518.90 L519.50 518.80 L519.70 518.90 L519.90 519.18 L520.60 520.57 L520.90 520.96 L521.60 521.27 L528.80 521.24 L529.10 521.03 L529.30 520.71 L529.50 520.17 L529.90 518.79 L530.00 518.53 L530.10 518.36 L530.20 518.30 L530.30 518.36 L530.40 518.53 L530.50 518.79 L530.90 520.17 L531.10 520.71 L531.30 521.03 L531.60 521.24 L556.00 521.30 L558.00 522.30 L573.00 521.75 L599.50 522.16 L602.00 521.40 L618.90 522.40 L619.40 522.16 L619.70 521.80 L619.90 521.38 L620.10 520.77 L620.20 520.37 L620.30 519.89 L620.40 519.32 L620.50 518.66 L620.60 517.88 L620.70 516.99 L620.80 515.97 L620.90 514.82 L621.00 513.53 L621.10 512.08 L621.20 510.49 L621.30 508.75 L621.40 506.87 L621.50 504.85 L621.60 502.71 L621.70 500.47 L621.80 498.14 L622.20 488.50 L622.30 486.19 L622.40 483.98 L622.50 481.92 L622.60 480.05 L622.70 478.40 L622.80 477.00 L622.90 475.88 L623.00 475.06 L623.10 474.57 L623.20 474.40 L623.40 476.83 L623.70 480.26 L624.00 483.43 L624.30 486.35 L624.60 489.06 L624.90 491.57 L625.30 494.62 L625.70 497.38 L626.10 499.86 L626.60 502.62 L627.10 505.04 L627.70 507.56 L628.40 510.05 L629.30 512.65 L630.40 515.10 L632.00 517.62 L635.10 520.34 L657.10 522.50 L659.00 521.33 L659.40 521.33 L663.00 523.30 L700.40 523.30" fill="none" stroke="#3838d8" stroke-width="1.2" stroke-linejoin="round" stroke-linecap="round"/>
<text x="59.40" y="418.40" font-size="15.5" fill="#000000" text-anchor="start" font-weight="bold">c</text>
<text x="203.00" y="443.00" font-size="15.6" fill="#e0211d" text-anchor="middle" font-weight="normal" stroke="#e0211d" stroke-width="0.5">1</text>
<text x="267.30" y="499.60" font-size="15.6" fill="#e0211d" text-anchor="middle" font-weight="normal" stroke="#e0211d" stroke-width="0.5">2</text>
<text x="284.30" y="477.60" font-size="15.6" fill="#e0211d" text-anchor="middle" font-weight="normal" stroke="#e0211d" stroke-width="0.5">3</text>
<text x="312.00" y="510.00" font-size="15.6" fill="#e0211d" text-anchor="middle" font-weight="normal" stroke="#e0211d" stroke-width="0.5">4</text>
<text x="323.70" y="501.10" font-size="15.6" fill="#e0211d" text-anchor="middle" font-weight="normal" stroke="#e0211d" stroke-width="0.5">5</text>
<text x="331.40" y="508.10" font-size="15.6" fill="#e0211d" text-anchor="middle" font-weight="normal" stroke="#e0211d" stroke-width="0.5">6</text>
<text x="348.90" y="487.30" font-size="15.6" fill="#e0211d" text-anchor="middle" font-weight="normal" stroke="#e0211d" stroke-width="0.5">7</text>
<text x="393.80" y="500.70" font-size="15.6" fill="#e0211d" text-anchor="middle" font-weight="normal" stroke="#e0211d" stroke-width="0.5">8</text>
<text x="482.70" y="493.50" font-size="15.6" fill="#e0211d" text-anchor="middle" font-weight="normal" stroke="#e0211d" stroke-width="0.5">9</text>
<text x="493.90" y="506.20" font-size="15.6" fill="#e0211d" text-anchor="middle" font-weight="normal" stroke="#e0211d" stroke-width="0.5">10</text>
</g>
<defs><filter id="soft" x="0" y="0" width="100%" height="100%"><feGaussianBlur stdDeviation="0.45"/></filter></defs>
</svg>
</body>
</html>
